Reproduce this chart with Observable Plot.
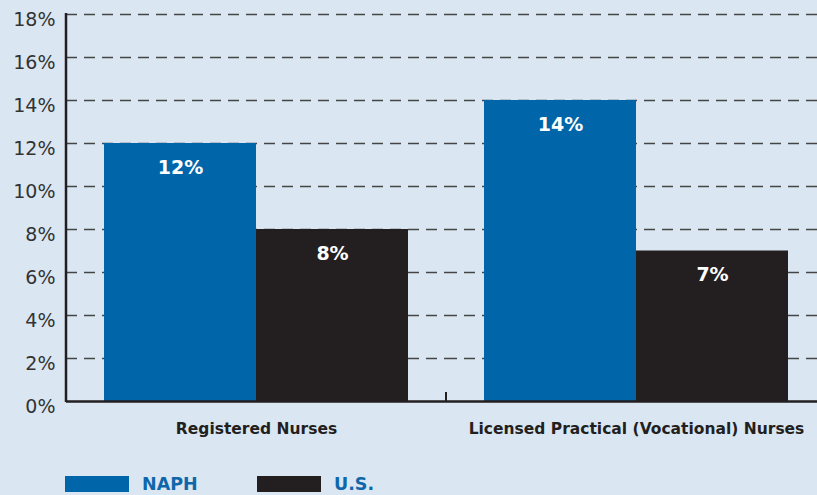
<!DOCTYPE html>
<html>
<head>
<meta charset="utf-8">
<script src="https://cdn.jsdelivr.net/npm/d3@7"></script>
<script src="https://cdn.jsdelivr.net/npm/@observablehq/plot@0.6"></script>
<style>
  html, body { margin: 0; padding: 0; background: #dae7f3; overflow: hidden; }
  #wrap { position: relative; width: 817px; height: 495px; overflow: hidden; font-family: "DejaVu Sans", sans-serif; }
  #chart svg { max-width: none !important; }
  #legend { position: absolute; left: 65px; top: 476px; display: flex; align-items: center; }
  .sw { width: 64px; height: 16px; margin-right: 13px; }
  .lb { font-weight: bold; font-size: 17.5px; color: #0f67aa; line-height: 16px; }
</style>
</head>
<body>
<div id="wrap">
  <div id="chart"></div>
  <div id="legend"></div>
</div>
<script>
const categories = ["Registered Nurses", "Licensed Practical (Vocational) Nurses"];
const series = ["NAPH", "U.S."];
const naphValues = [12, 14];
const usValues = [8, 7];
const yTicks = [0, 2, 4, 6, 8, 10, 12, 14, 16, 18];
const colors = ["#0066a9", "#231f20"];

const data = categories.flatMap((c, i) => [
  {category: c, series: series[0], value: naphValues[i]},
  {category: c, series: series[1], value: usValues[i]}
]);

const font = "DejaVu Sans, sans-serif";
const plot = Plot.plot({
  width: 826,
  height: 455,
  marginLeft: 66,
  marginRight: 0,
  marginTop: 14,
  marginBottom: 54,
  style: {background: "transparent", fontFamily: font, color: "#231f20", maxWidth: "none"},
  fx: {domain: categories, padding: 0, label: null},
  x: {domain: series, paddingInner: 0, paddingOuter: 0.25, axis: null},
  y: {domain: [0, 18], axis: null},
  color: {domain: series, range: colors},
  marks: [
    Plot.gridY(yTicks.filter(d => d > 0), {stroke: "#454545", strokeOpacity: 1, strokeWidth: 1.5, strokeDasharray: "11,7"}),
    Plot.barY(data, {fx: "category", x: "series", y: "value", fill: "series"}),
    Plot.text(data, {fx: "category", x: "series", y: "value", text: d => d.value + "%", dy: 24, fill: "white", fontWeight: "bold", fontSize: 19}),
    Plot.axisY({ticks: yTicks, tickFormat: d => d + "%", tickSize: 0, tickPadding: 11, dy: 5, fontSize: 19, anchor: "left", label: null, fill: "#333"}),
    Plot.axisFx({anchor: "bottom", tickSize: 0, tickPadding: 21, fontSize: 15.5, fontWeight: "bold", label: null}),
    Plot.ruleY([0], {stroke: "#231f20", strokeWidth: 2.5})
  ]
});
plot.style.maxWidth = "none";
document.getElementById("chart").appendChild(plot);

// axis line on the left and the tick between the groups
const fx = plot.scale("fx");
const y = plot.scale("y");
const svg = d3.select(plot);
const x0 = fx.range[0];
svg.append("line")
  .attr("x1", x0).attr("x2", x0)
  .attr("y1", y.apply(18) - 1).attr("y2", y.apply(0) + 1)
  .attr("stroke", "#231f20").attr("stroke-width", 2.5);
const mid = fx.apply(categories[1]);
svg.append("line")
  .attr("x1", mid).attr("x2", mid)
  .attr("y1", y.apply(0) - 9).attr("y2", y.apply(0))
  .attr("stroke", "#231f20").attr("stroke-width", 2);

// legend
const legend = document.getElementById("legend");
series.forEach((s, i) => {
  const sw = document.createElement("div");
  sw.className = "sw";
  sw.style.background = colors[i];
  const lb = document.createElement("div");
  lb.className = "lb";
  lb.textContent = s;
  lb.style.width = i === 0 ? "115px" : "auto";
  legend.appendChild(sw);
  legend.appendChild(lb);
});
</script>
</body>
</html>
